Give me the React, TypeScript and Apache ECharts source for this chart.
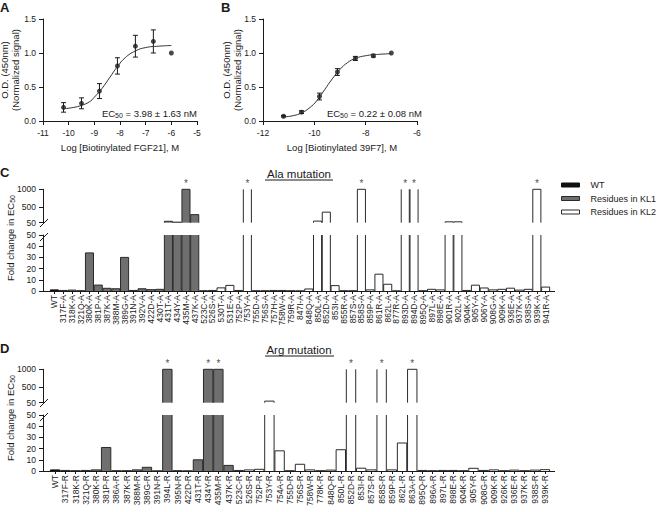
import React, { useEffect, useRef } from 'react';
import * as echarts from 'echarts';

// ---------- Panel A: FGF21 binding ----------
const aLogConc = [-10.2, -9.5, -8.8, -8.1, -7.4, -6.7, -6.0];
const aSignal = [0.2, 0.26, 0.44, 0.81, 1.1, 1.17, 1.0];
const aError = [0.07, 0.08, 0.11, 0.12, 0.16, 0.17, 0];
const aFitLogConc = [-10.2, -9.8, -9.5, -9.2, -9.0, -8.7, -8.4, -8.1, -7.8, -7.4, -7.0, -6.5, -6.0];
const aFitSignal = [0.18, 0.2, 0.23, 0.28, 0.35, 0.48, 0.64, 0.8, 0.93, 1.03, 1.08, 1.1, 1.11];

// ---------- Panel B: 39F7 binding ----------
const bLogConc = [-11.2, -10.5, -9.8, -9.1, -8.4, -7.7, -7.0];
const bSignal = [0.07, 0.13, 0.36, 0.72, 0.92, 0.96, 1.0];
const bError = [0.01, 0.02, 0.05, 0.05, 0.03, 0.02, 0];
const bFitLogConc = [-11.2, -10.8, -10.5, -10.2, -9.9, -9.6, -9.3, -9.0, -8.7, -8.4, -8.0, -7.5, -7.0];
const bFitSignal = [0.06, 0.08, 0.12, 0.19, 0.3, 0.46, 0.62, 0.76, 0.86, 0.92, 0.96, 0.98, 0.99];

// ---------- Panel C: Ala mutation ----------
const alaLabels = [
  'WT', '317F-A', '318K-A', '321Q-A', '380K-A', '381P-A', '387K-A', '388M-A', '389G-A', '391N-A',
  '392V-A', '422D-A', '430T-A', '431T-A', '434Y-A', '435M-A', '437K-A', '523C-A', '526S-A', '530T-A',
  '531E-A', '752P-A', '753Y-A', '755D-A', '756S-A', '757H-A', '758W-A', '759R-A', '847I-A', '848Q-A',
  '850L-A', '852D-A', '853I-A', '855R-A', '857S-A', '858S-A', '859P-A', '861R-A', '862L-A', '877R-A',
  '893D-A', '894D-A', '895Q-A', '897L-A', '898E-A', '901R-A', '902L-A', '904K-A', '905Y-A', '906Y-A',
  '908G-A', '909K-A', '936E-A', '937K-A', '938S-A', '939K-A', '941R-A',
];
const alaFold = [
  1, 0.5, 0.8, 0.3, 34, 5.3, 2.4, 2, 30, 0.5,
  2, 1.2, 1.5, 90, 65, 1000, 280, 0.3, 0.5, 2.8,
  5, 0.5, 1200, 0.3, 0.3, 0.5, 0.5, 0.3, 0.2, 1.8,
  95, 350, 4.8, 0.3, 0.3, 1000, 1, 15, 6, 0.2,
  1200, 1200, 0.3, 1.5, 1, 75, 75, 0.5, 5.2, 2.7,
  1, 1.5, 2.5, 0.8, 1.5, 1000, 3.5,
];
const alaStarred = ['435M-A', '753Y-A', '858S-A', '893D-A', '894D-A', '939K-A'];

// ---------- Panel D: Arg mutation ----------
const argLabels = [
  'WT', '317F-R', '318K-R', '321Q-R', '380K-R', '381P-R', '386A-R', '387K-R', '388M-R', '389G-R',
  '391N-R', '394L-R', '395N-R', '422D-R', '431T-R', '434Y-R', '435M-R', '437K-R', '523C-R', '526S-R',
  '752P-R', '753Y-R', '754A-R', '755D-R', '756S-R', '758W-R', '778K-R', '848Q-R', '850L-R', '852D-R',
  '853I-R', '857S-R', '858S-R', '859P-R', '862L-R', '863A-R', '895Q-R', '896A-R', '897L-R', '898E-R',
  '904K-R', '905Y-R', '908G-R', '909K-R', '926K-R', '936E-R', '937K-R', '938S-R', '939K-R',
];
const argFold = [
  1, 0.5, 0.3, 0.5, 1, 21, 0.3, 0.3, 1, 3.3,
  0.2, 1000, 0.3, 0.2, 10, 1000, 1000, 5, 0.5, 1,
  1.5, 95, 18, 0.3, 6, 1, 0.3, 0.8, 19, 1200,
  2.5, 1, 1200, 1, 25, 1000, 0.5, 0.3, 0.5, 0.5,
  0.3, 2.4, 0.5, 1, 0.3, 0.8, 0.3, 0.8, 1.2,
];
const argStarred = ['394L-R', '434Y-R', '435M-R', '852D-R', '858S-R', '863A-R'];

const lowerTicks = [0, 10, 20, 30, 40, 50];
const upperTicks = [50, 500, 1000];

const FONT = '"Liberation Sans", Arial, Helvetica, sans-serif';
const INK = '#1a1a1a';
const GROUP_NAMES = ['WT', 'Residues in KL1', 'Residues in KL2'];
const GROUP_FILL = ['#111111', '#6f6f6f', '#ffffff'];
const GROUP_STROKE = ['#111111', '#2a2a2a', '#2a2a2a'];

function groupOf(label: string): number {
  if (label === 'WT') return 0;
  return parseInt(label, 10) < 500 ? 1 : 2;
}

function makeBarRenderer(lo: number, hi: number, g: number) {
  return (_params: any, api: any) => {
    const idx = api.value(0) as number;
    const v = api.value(1) as number;
    if (!(v > lo)) return { type: 'group', children: [] };
    const band = api.size([1, 0])[0];
    const w = band * 0.92;
    const base = api.coord([idx, lo]);
    const clipped = v > hi;
    const topPt = api.coord([idx, clipped ? hi : v]);
    const cx = base[0];
    const yBase = base[1];
    const yTop = topPt[1];
    const l = cx - w / 2;
    const r = cx + w / 2;
    const stroke = GROUP_STROKE[g];
    const children: any[] = [
      { type: 'rect', shape: { x: l, y: yTop, width: w, height: Math.max(yBase - yTop, 0) }, style: { fill: GROUP_FILL[g] } },
    ];
    if (clipped) {
      children.push({ type: 'line', shape: { x1: l, y1: yBase, x2: l, y2: yTop }, style: { stroke, lineWidth: 1 } });
      children.push({ type: 'line', shape: { x1: r, y1: yBase, x2: r, y2: yTop }, style: { stroke, lineWidth: 1 } });
    } else {
      children.push({
        type: 'polyline',
        shape: { points: [[l, yBase], [l, yTop], [r, yTop], [r, yBase]] },
        style: { stroke, fill: 'none', lineWidth: 1 },
      });
    }
    return { type: 'group', children };
  };
}

function barSeries(labels: string[], values: number[], starred: string[], upperIdx: number, lowerIdx: number) {
  const out: any[] = [];
  for (let g = 0; g < 3; g++) {
    const data: number[][] = [];
    labels.forEach((l, i) => { if (groupOf(l) === g) data.push([i, values[i]]); });
    const common = {
      type: 'custom', name: GROUP_NAMES[g], data, encode: { x: 0, y: 1 },
      itemStyle: { color: GROUP_FILL[g], borderColor: GROUP_STROKE[g] }, silent: true,
    };
    out.push({ ...common, xAxisIndex: upperIdx, yAxisIndex: upperIdx, renderItem: makeBarRenderer(50, 1000, g) });
    out.push({ ...common, xAxisIndex: lowerIdx, yAxisIndex: lowerIdx, renderItem: makeBarRenderer(0, 50, g) });
  }
  const starData: number[][] = [];
  labels.forEach((l, i) => { if (starred.indexOf(l) >= 0) starData.push([i, 1000]); });
  out.push({
    type: 'scatter', xAxisIndex: upperIdx, yAxisIndex: upperIdx, data: starData, silent: true,
    symbolSize: 1, itemStyle: { color: 'rgba(0,0,0,0)' },
    label: { show: true, formatter: '*', position: 'top', distance: 0, color: INK, fontSize: 10, fontFamily: FONT },
  });
  return out;
}

function errorBarRenderer(_params: any, api: any) {
  const x = api.value(0);
  const y = api.value(1);
  const e = api.value(2);
  if (!e) return { type: 'group', children: [] };
  const p1 = api.coord([x, y + e]);
  const p2 = api.coord([x, y - e]);
  const cap = 2.5;
  const st = { stroke: INK, lineWidth: 1 };
  return {
    type: 'group',
    children: [
      { type: 'line', shape: { x1: p1[0], y1: p1[1], x2: p2[0], y2: p2[1] }, style: st },
      { type: 'line', shape: { x1: p1[0] - cap, y1: p1[1], x2: p1[0] + cap, y2: p1[1] }, style: st },
      { type: 'line', shape: { x1: p2[0] - cap, y1: p2[1], x2: p2[0] + cap, y2: p2[1] }, style: st },
    ],
  };
}

const axisLineStyle = { show: true, lineStyle: { color: INK, width: 1 } };
const tickLabel = { color: INK, fontSize: 8.5, fontFamily: FONT };

function doseXAxis(grid: number, min: number, max: number, interval: number) {
  return {
    type: 'value', gridIndex: grid, min, max, interval,
    axisLine: { ...axisLineStyle, onZero: false },
    axisTick: { show: true, length: 4, lineStyle: { color: INK } },
    axisLabel: { ...tickLabel, margin: 7 },
    splitLine: { show: false },
  };
}
function doseYAxis(grid: number) {
  return {
    type: 'value', gridIndex: grid, min: 0, max: 1.5, interval: 0.5,
    axisLine: { ...axisLineStyle, onZero: false },
    axisTick: { show: true, length: 4, lineStyle: { color: INK } },
    axisLabel: { ...tickLabel, margin: 7, formatter: (v: number) => v.toFixed(1) },
    splitLine: { show: false },
  };
}
function catAxis(grid: number, labels: string[], visible: boolean) {
  return {
    type: 'category', gridIndex: grid, data: labels, show: visible,
    axisLine: { show: false },
    axisTick: { show: true, alignWithLabel: true, length: 3, lineStyle: { color: INK } },
    axisLabel: { ...tickLabel, rotate: 90, interval: 0, margin: 4 },
  };
}
function foldYAxis(grid: number, upper: boolean) {
  const ticks = upper ? upperTicks : lowerTicks;
  return {
    type: 'value', gridIndex: grid, offset: 7,
    min: upper ? 50 : 0, max: upper ? 1000 : 50,
    ...(upper ? {} : { interval: 10 }),
    axisLine: { ...axisLineStyle, onZero: false },
    axisTick: { show: true, length: 4, lineStyle: { color: INK }, customValues: ticks },
    axisLabel: { ...tickLabel, margin: 7, customValues: ticks, formatter: (v: number) => String(v) },
    splitLine: { show: false },
  };
}

function text(x: number, y: number, t: string, style: any = {}, extra: any = {}) {
  return {
    type: 'text', x, y, silent: true, ...extra,
    style: { text: t, fill: INK, fontFamily: FONT, fontSize: 9.5, align: 'left', verticalAlign: 'top', ...style },
  };
}
function line(x1: number, y1: number, x2: number, y2: number) {
  return { type: 'line', silent: true, shape: { x1, y1, x2, y2 }, style: { stroke: INK, lineWidth: 1 } };
}
const subRich = {
  n: { fontSize: 9.5, fontFamily: FONT, fill: INK, lineHeight: 12 },
  s: { fontSize: 7, fontFamily: FONT, fill: INK, lineHeight: 7, verticalAlign: 'bottom' },
};

function buildOption() {
  const graphics: any[] = [
    text(0, 0.5, 'A', { fontSize: 13, fontWeight: 'bold' }),
    text(221, 0.5, 'B', { fontSize: 13, fontWeight: 'bold' }),
    text(0, 165.5, 'C', { fontSize: 13, fontWeight: 'bold' }),
    text(0, 342, 'D', { fontSize: 13, fontWeight: 'bold' }),
    text(10, 70, 'O.D. (450nm)\n(Normalized signal)', { align: 'center', verticalAlign: 'middle', lineHeight: 11 }, { rotation: Math.PI / 2 }),
    text(232, 70, 'O.D. (450nm)\n(Normalized signal)', { align: 'center', verticalAlign: 'middle', lineHeight: 11 }, { rotation: Math.PI / 2 }),
    text(120, 147, 'Log [Biotinylated FGF21], M', { align: 'center', verticalAlign: 'middle' }),
    text(342, 147, 'Log [Biotinylated 39F7], M', { align: 'center', verticalAlign: 'middle' }),
    text(197, 113, '{n|EC}{s|50}{n| = 3.98 ± 1.63 nM}', { align: 'right', verticalAlign: 'middle', rich: subRich }),
    text(422, 113, '{n|EC}{s|50}{n| = 0.22 ± 0.08 nM}', { align: 'right', verticalAlign: 'middle', rich: subRich }),
    text(299, 174, 'Ala mutation', { fontSize: 11.5, align: 'center', verticalAlign: 'middle' }),
    line(265, 180, 333, 180),
    text(299, 350, 'Arg mutation', { fontSize: 11.5, align: 'center', verticalAlign: 'middle' }),
    line(265, 356, 334, 356),
    text(10, 238, '{n|Fold change in EC}{s|50}', { align: 'center', verticalAlign: 'middle', rich: subRich }, { rotation: Math.PI / 2 }),
    text(10, 418, '{n|Fold change in EC}{s|50}', { align: 'center', verticalAlign: 'middle', rich: subRich }, { rotation: Math.PI / 2 }),
    line(43, 291.5, 555, 291.5),
    line(43, 471.5, 555, 471.5),
    line(40, 227, 48, 219),
    line(40, 241, 48, 233),
    line(40, 407, 48, 399),
    line(40, 421, 48, 413),
  ];

  return {
    animation: false,
    backgroundColor: '#ffffff',
    textStyle: { fontFamily: FONT },
    legend: {
      data: GROUP_NAMES.map((n, g) => ({
        name: n, icon: 'rect',
        itemStyle: { color: GROUP_FILL[g], borderColor: GROUP_STROKE[g], borderWidth: 1 },
      })),
      orient: 'vertical', left: 561, top: 180.5, itemWidth: 18, itemHeight: 4, itemGap: 4.5,
      selectedMode: false, padding: 0, width: 99,
      textStyle: { fontSize: 9, fontFamily: FONT, color: INK, padding: [0, 0, 0, 6] },
    },
    grid: [
      { left: 43, top: 19, width: 154, height: 102 },
      { left: 263, top: 19, width: 154, height: 102 },
      { left: 50, top: 189.3, width: 500, height: 33.4 },
      { left: 50, top: 235, width: 500, height: 56 },
      { left: 50, top: 369.3, width: 500, height: 33.4 },
      { left: 50, top: 415, width: 500, height: 56 },
    ],
    xAxis: [
      doseXAxis(0, -11, -5, 1),
      doseXAxis(1, -12, -6, 2),
      catAxis(2, alaLabels, false),
      catAxis(3, alaLabels, true),
      catAxis(4, argLabels, false),
      catAxis(5, argLabels, true),
    ],
    yAxis: [
      doseYAxis(0),
      doseYAxis(1),
      foldYAxis(2, true),
      foldYAxis(3, false),
      foldYAxis(4, true),
      foldYAxis(5, false),
    ],
    series: [
      {
        type: 'line', xAxisIndex: 0, yAxisIndex: 0, smooth: true, symbol: 'none', silent: true,
        data: aFitLogConc.map((x, i) => [x, aFitSignal[i]]),
        lineStyle: { color: '#333', width: 1 },
      },
      {
        type: 'custom', xAxisIndex: 0, yAxisIndex: 0, silent: true,
        data: aLogConc.map((x, i) => [x, aSignal[i], aError[i]]),
        encode: { x: 0, y: 1 }, renderItem: errorBarRenderer,
      },
      {
        type: 'scatter', xAxisIndex: 0, yAxisIndex: 0, symbolSize: 5, silent: true,
        data: aLogConc.map((x, i) => [x, aSignal[i]]),
        itemStyle: { color: INK },
      },
      {
        type: 'line', xAxisIndex: 1, yAxisIndex: 1, smooth: true, symbol: 'none', silent: true,
        data: bFitLogConc.map((x, i) => [x, bFitSignal[i]]),
        lineStyle: { color: '#333', width: 1 },
      },
      {
        type: 'custom', xAxisIndex: 1, yAxisIndex: 1, silent: true,
        data: bLogConc.map((x, i) => [x, bSignal[i], bError[i]]),
        encode: { x: 0, y: 1 }, renderItem: errorBarRenderer,
      },
      {
        type: 'scatter', xAxisIndex: 1, yAxisIndex: 1, symbolSize: 5, silent: true,
        data: bLogConc.map((x, i) => [x, bSignal[i]]),
        itemStyle: { color: INK },
      },
      ...barSeries(alaLabels, alaFold, alaStarred, 2, 3),
      ...barSeries(argLabels, argFold, argStarred, 4, 5),
    ],
    graphic: { elements: graphics },
  };
}

export default function App() {
  const ref = useRef<HTMLDivElement>(null);
  useEffect(() => {
    if (!ref.current) return;
    const chart = echarts.init(ref.current, null, { renderer: 'svg' });
    chart.setOption(buildOption() as any);
    return () => chart.dispose();
  }, []);
  return (
    <div
      ref={ref}
      style={{ position: 'fixed', left: 0, top: 0, width: 660, height: 512, background: '#fff' }}
    />
  );
}
